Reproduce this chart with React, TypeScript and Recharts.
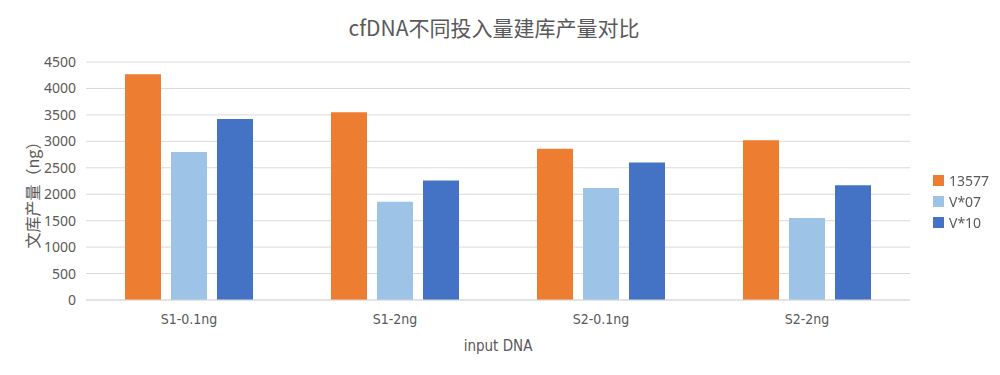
import { Bar, BarChart, CartesianGrid, Legend, XAxis, YAxis } from "recharts";

const categories = ["S1-0.1ng", "S1-2ng", "S2-0.1ng", "S2-2ng"];
const series13577 = [4270, 3550, 2860, 3020];
const seriesV07 = [2800, 1860, 2120, 1550];
const seriesV10 = [3420, 2260, 2600, 2170];
const yTicks = [0, 500, 1000, 1500, 2000, 2500, 3000, 3500, 4000, 4500];

const SERIES = [
  { key: "13577", color: "#ED7D31" },
  { key: "V*07", color: "#9DC3E6" },
  { key: "V*10", color: "#4472C4" },
];

const data = categories.map((name, i) => ({
  name,
  "13577": series13577[i],
  "V*07": seriesV07[i],
  "V*10": seriesV10[i],
}));

const textColor = "#595959";
const narrowFont = "'Liberation Sans Narrow', 'DejaVu Sans Condensed', sans-serif";

function LegendBox({ payload }: { payload?: Array<{ value: string; color: string }> }) {
  return (
    <div style={{ fontFamily: "'Noto Sans', sans-serif", fontSize: 14, color: textColor }}>
      {(payload ?? []).map((entry) => (
        <div key={entry.value} style={{ display: "flex", alignItems: "center", height: 21 }}>
          <span style={{ width: 11, height: 11, background: entry.color, marginRight: 5, display: "inline-block" }} />
          <span>{entry.value}</span>
        </div>
      ))}
    </div>
  );
}

export default function App() {
  return (
    <div style={{ position: "fixed", left: 0, top: 0, width: 1000, height: 375, background: "#fff" }}>
      <div
        style={{
          position: "absolute",
          left: 0,
          top: 12,
          width: 988,
          textAlign: "center",
          fontFamily: "'Noto Sans CJK SC', sans-serif",
          fontSize: 21,
          color: textColor,
        }}
      >
        cfDNA不同投入量建库产量对比
      </div>
      <BarChart
        width={1000}
        height={375}
        data={data}
        margin={{ top: 62, right: 90, bottom: 15, left: 26 }}
        barGap={10}
        barSize={36}
      >
        <CartesianGrid vertical={false} stroke="#d9d9d9" />
        <XAxis
          dataKey="name"
          height={60}
          axisLine={{ stroke: "#d9d9d9" }}
          tickLine={false}
          tickSize={0}
          tickMargin={14}
          tick={{ fill: textColor, fontSize: 14, fontFamily: narrowFont }}
          label={{
            value: "input DNA",
            position: "insideBottom",
            offset: 9,
            fill: textColor,
            fontSize: 15,
            fontFamily: narrowFont,
          }}
        />
        <YAxis
          width={60}
          domain={[0, 4500]}
          ticks={yTicks}
          axisLine={false}
          tickLine={false}
          tickSize={0}
          tickMargin={10}
          tick={{ fill: textColor, fontSize: 14, fontFamily: "'Noto Sans', sans-serif" }}
          label={{
            content: () => (
              <text
                x={32}
                y={191}
                transform="rotate(-90 32 191)"
                textAnchor="middle"
                dominantBaseline="central"
                fill={textColor}
                fontSize={16}
                fontFamily="'Noto Sans CJK SC', sans-serif"
              >
                文库产量（ng）
              </text>
            ),
          }}
        />
        <Legend
          layout="vertical"
          align="center"
          verticalAlign="middle"
          wrapperStyle={{ left: 933, top: 170, width: 70 }}
          content={(props: any) => <LegendBox payload={props.payload} />}
        />
        {SERIES.map((s) => (
          <Bar key={s.key} dataKey={s.key} fill={s.color} isAnimationActive={false} />
        ))}
      </BarChart>
    </div>
  );
}
